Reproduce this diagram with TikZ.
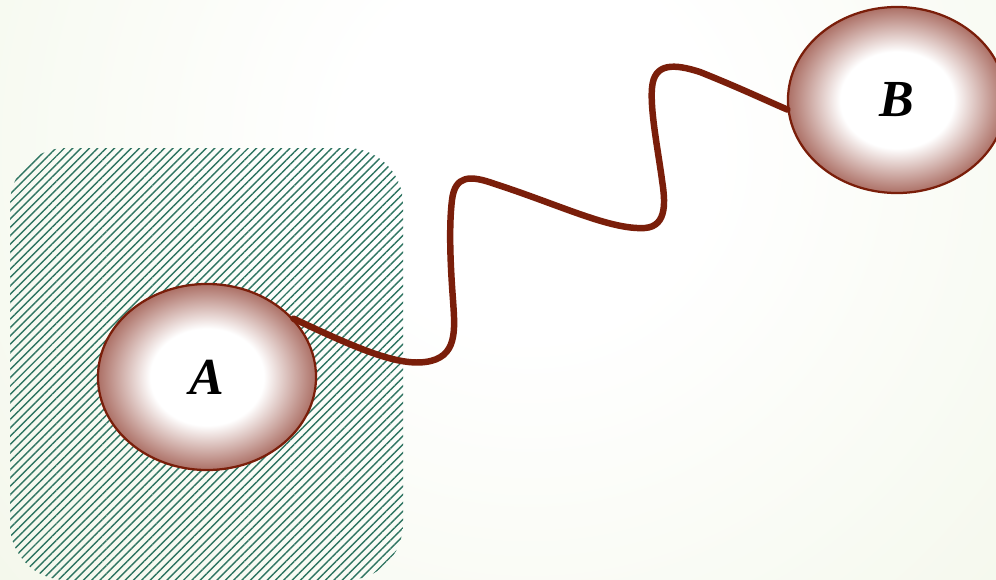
\documentclass[tikz,border=0pt]{standalone}
\usepackage{fontspec}
\setmainfont{Liberation Serif}
\usepackage{xcolor}
\usetikzlibrary{shapes.geometric,patterns.meta}

\definecolor{bgout}{RGB}{234,241,218}
\definecolor{hatch}{RGB}{46,116,97}
\definecolor{wire}{RGB}{122,30,10}
\definecolor{blob}{RGB}{172,112,102}
\pgfdeclareradialshading{bgshade}{\pgfpoint{0bp}{0bp}}{color(0bp)=(white);color(4bp)=(white);color(25bp)=(bgout);color(50bp)=(bgout)}
\pgfdeclareradialshading{blobshade}{\pgfpoint{0bp}{0bp}}{color(0bp)=(white);color(13bp)=(white);color(25bp)=(blob);color(50bp)=(blob)}

\tikzset{
  site/.style={ellipse,draw=wire,line width=1.6pt,shading=blobshade,
    minimum width=5.45cm,minimum height=4.65cm,inner sep=0pt,
    font=\fontsize{37}{40}\selectfont\bfseries\itshape},
  wave/.style={draw=wire,line width=4.6pt,line cap=round}
}

\begin{document}
\begin{tikzpicture}[x=0.025cm,y=-0.025cm]
\useasboundingbox (0,0) rectangle (996,580);
\begin{scope}
\clip (0,0) rectangle (996,580);
% background glow
\shade[shading=bgshade] (530,150) circle (1150);
% hatched region
\fill[pattern={Lines[angle=45,distance=4.2pt,line width=1pt]},pattern color=hatch,
  rounded corners=1.4cm] (10,148) rectangle (403,580);
\node[site] (A) at (207,377) {A};
\node[site] (B) at (897,100) {B};
% the wiggly link
\draw[wave] (A.34) .. controls (350,345) and (395,366) .. (425,362)
  .. controls (458,358) and (455,330) .. (453,300)
  .. controls (450,260) and (449,225) .. (452,200)
  .. controls (455,175) and (470,175) .. (495,184)
  .. controls (560,205) and (610,230) .. (645,228)
  .. controls (668,226) and (665,200) .. (662,180)
  .. controls (658,150) and (650,110) .. (652,88)
  .. controls (654,62) and (675,64) .. (700,72)
  .. controls (740,88) and (765,100) .. (B.185);
\end{scope}
\end{tikzpicture}
\end{document}
